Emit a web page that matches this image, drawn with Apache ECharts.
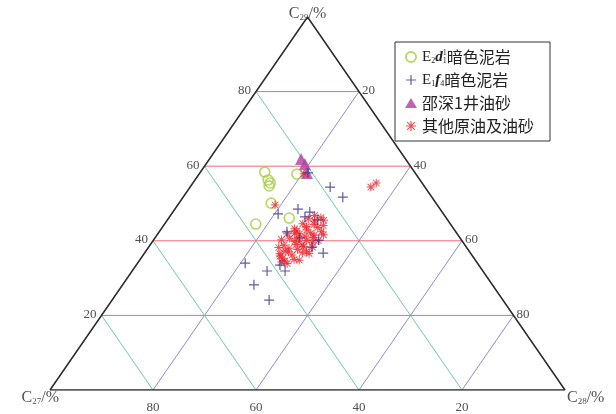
<!DOCTYPE html>
<html>
<head>
<meta charset="utf-8">
<script src="https://cdn.jsdelivr.net/npm/echarts@6/dist/echarts.min.js"></script>
<style>
  html, body { margin: 0; padding: 0; background: #fff; }
  #chart { width: 616px; height: 414px; }
</style>
</head>
<body>
<div id="chart"></div>
<script>
// Sterane composition of each sample, as [C27, C28, C29] in %
const mudstoneEd = [
  [29.1, 12.5, 58.4], [29.5, 14.2, 56.3], [29.5, 15.0, 55.5], [30.1, 15.2, 54.7],
  [23.1, 19.0, 57.9], [32.0, 17.9, 50.1], [30.5, 23.4, 46.1], [37.8, 17.7, 44.5]
];
const mudstoneEf = [
  [20.8, 21.0, 58.2], [18.4, 27.2, 54.4], [17.3, 31.0, 51.7], [32.1, 20.7, 47.2],
  [27.6, 23.9, 48.5], [25.7, 26.6, 47.7], [27.3, 26.3, 46.4], [25.2, 29.2, 45.6],
  [32.8, 24.8, 42.4], [27.7, 32.1, 40.2], [28.6, 34.7, 36.7], [38.4, 29.7, 31.9],
  [45.1, 20.9, 34.0], [41.9, 26.2, 31.9], [38.6, 27.9, 33.5], [46.3, 25.5, 28.2],
  [45.4, 30.5, 24.1], [30.0, 31.7, 38.3], [31.1, 28.1, 40.8]
];
const shaoShen1 = [
  [20.3, 17.8, 61.9], [20.2, 19.2, 60.6], [21.0, 20.8, 58.2]
];
const otherOils = [
  [21.7, 20.3, 58.0], [31.5, 18.9, 49.6], [10.5, 35.1, 54.4], [8.9, 35.6, 55.5],
  [25.2, 28.0, 46.8], [24.3, 29.5, 46.2], [26.9, 27.2, 45.9], [24.1, 30.4, 45.5],
  [26.0, 28.7, 45.3], [28.6, 26.8, 44.6], [26.5, 29.1, 44.4], [24.9, 31.0, 44.1],
  [28.3, 27.9, 43.8], [26.2, 30.2, 43.6], [30.9, 25.9, 43.2], [28.7, 28.4, 42.9],
  [30.8, 26.6, 42.6], [26.1, 31.5, 42.4], [28.3, 29.6, 42.1], [30.7, 27.5, 41.8],
  [26.1, 32.3, 41.6], [33.0, 25.1, 41.9], [29.9, 28.9, 41.2], [28.4, 30.7, 40.9],
  [33.1, 26.2, 40.7], [34.9, 24.8, 40.3], [30.1, 29.8, 40.1], [32.5, 27.6, 39.9],
  [27.9, 32.1, 40.0], [29.2, 31.2, 39.6], [32.7, 28.3, 39.0], [35.2, 26.0, 38.8],
  [31.5, 30.0, 38.5], [36.5, 25.3, 38.2], [34.6, 27.4, 38.0], [29.9, 31.8, 38.3],
  [33.1, 29.2, 37.7], [35.2, 27.8, 37.0], [32.6, 30.6, 36.8], [37.1, 26.4, 36.5],
  [34.9, 28.9, 36.2], [31.4, 32.0, 36.6], [37.4, 26.7, 35.9], [37.2, 27.5, 35.3],
  [35.1, 29.9, 35.0], [37.1, 28.3, 34.6], [37.9, 27.8, 34.3], [34.2, 31.0, 34.8],
  [37.0, 29.1, 33.9], [31.5, 28.0, 40.5], [28.0, 30.5, 41.5], [35.7, 27.0, 37.3],
  [31.6, 29.5, 38.9], [31.5, 26.5, 42.0], [31.6, 31.2, 37.2]
];
const gridTicks = [20, 40, 60, 80];

const seriesNames = ['E2d11暗色泥岩', 'E1f4暗色泥岩', '邵深1井油砂', '其他原油及油砂'];
const legendLabels = {
  'E2d11暗色泥岩': 'E{sub|2}{it|d}{supw|1}{sub|1}{cn|暗色泥岩}',
  'E1f4暗色泥岩': 'E{sub|1}{it|f}{sub|4}{cn|暗色泥岩}',
  '邵深1井油砂': '{cn|邵深1井油砂}',
  '其他原油及油砂': '{cn|其他原油及油砂}'
};

const SERIF = "'Liberation Serif', 'Noto Sans CJK SC', serif";
const CJK = "'Noto Sans CJK SC', 'Liberation Serif', sans-serif";

// ternary [C27, C28, C29] -> cartesian (C28 pulls right, C29 pulls up)
function toXY(p) {
  return [p[1] + p[2] / 2, p[2]];
}

const plusPath = 'path://M0,4.4h10v1.2h-10z M4.4,0h1.2v10h-1.2z';
const starPath = 'path://M0,4.4h10v1.2h-10z M4.4,0h1.2v10h-1.2z ' +
  'M0.8,1.6L1.6,0.8L9.2,8.4L8.4,9.2z M8.4,0.8L9.2,1.6L1.6,9.2L0.8,8.4z';

function segment(a, b, color, width) {
  return {
    type: 'line', data: [toXY(a), toXY(b)], symbol: 'none', silent: true,
    lineStyle: { color: color, width: width }, z: 1, animation: false
  };
}

const series = [];
gridTicks.forEach(function (t) {
  series.push(segment([100 - t, 0, t], [0, 100 - t, t], '#f0687a', 1));   // C29 = t
  series.push(segment([t, 100 - t, 0], [t, 0, 100 - t], '#6fc9a5', 1));   // C27 = t
  series.push(segment([100 - t, t, 0], [0, t, 100 - t], '#8e8bd0', 1));   // C28 = t
});
series.push({
  type: 'line', silent: true, symbol: 'none', z: 2, animation: false,
  data: [[100, 0, 0], [0, 100, 0], [0, 0, 100], [100, 0, 0]].map(toXY),
  lineStyle: { color: '#2a2a2a', width: 1.5 }
});

function tickLabels(points, pos, dist, offset) {
  return {
    type: 'scatter', silent: true, symbolSize: 0, z: 3, animation: false,
    data: points.map(function (d) { return { value: toXY(d.p).concat(d.t) }; }),
    label: {
      show: true, position: pos, distance: dist, offset: offset || [0, 0],
      formatter: function (p) { return String(p.value[2]); },
      fontFamily: SERIF, fontSize: 13, color: '#222'
    }
  };
}
series.push(tickLabels(gridTicks.map(function (t) { return { p: [100 - t, 0, t], t: t }; }), 'left', 5, [0, -1]));
series.push(tickLabels(gridTicks.map(function (t) { return { p: [0, t, 100 - t], t: t }; }), 'right', 3, [0, -1]));
series.push(tickLabels(gridTicks.map(function (t) { return { p: [t, 100 - t, 0], t: t }; }), 'bottom', 11));

const titleRich = {
  s: { fontFamily: SERIF, fontSize: 9, verticalAlign: 'bottom', lineHeight: 12, padding: [6, 0, 0, 0], color: '#222' }
};
function cornerTitle(p, text, pos, offset) {
  return {
    type: 'scatter', silent: true, symbolSize: 0, z: 3, animation: false,
    data: [{ value: toXY(p) }],
    label: {
      show: true, position: pos, offset: offset, distance: 0,
      formatter: text, fontFamily: SERIF, fontSize: 16, color: '#222', rich: titleRich
    }
  };
}
series.push(cornerTitle([100, 0, 0], 'C{s|27}/%', 'left', [9, 8]));
series.push(cornerTitle([0, 100, 0], 'C{s|28}/%', 'right', [2, 8]));
series.push(cornerTitle([0, 0, 100], 'C{s|29}/%', 'top', [0, 5]));

series.push({
  name: seriesNames[0], type: 'scatter', z: 5, symbol: 'circle', symbolSize: 10,
  data: mudstoneEd.map(toXY),
  itemStyle: { color: 'rgba(255,255,255,0)', borderColor: '#a6ce45', borderWidth: 1.7 }
});
series.push({
  name: seriesNames[2], type: 'scatter', z: 6, symbol: 'triangle', symbolSize: 12,
  data: shaoShen1.map(toXY),
  itemStyle: { color: '#b23e9f' }
});
series.push({
  name: seriesNames[3], type: 'scatter', z: 7, symbol: starPath, symbolSize: 8.5,
  data: otherOils.map(toXY),
  itemStyle: { color: '#ec2228' }
});
series.push({
  name: seriesNames[1], type: 'scatter', z: 8, symbol: plusPath, symbolSize: 10,
  data: mudstoneEf.map(toXY),
  itemStyle: { color: '#35358f' }
});

const chart = echarts.init(document.getElementById('chart'));
chart.setOption({
  animation: false,
  backgroundColor: '#fff',
  grid: { left: 50, right: 51, top: 17, bottom: 24 },
  xAxis: { type: 'value', min: 0, max: 100, show: false },
  yAxis: { type: 'value', min: 0, max: 100, show: false },
  legend: {
    data: seriesNames,
    orient: 'vertical', left: 395, top: 42,
    padding: [7, 16, 7, 10], itemGap: 7, itemWidth: 12, itemHeight: 10,
    itemTextGap: 8,
    borderColor: '#333', borderWidth: 1, borderRadius: 0,
    formatter: function (n) { return legendLabels[n]; },
    textStyle: {
      fontFamily: SERIF, fontSize: 15, color: '#222',
      rich: {
        sub: { fontFamily: SERIF, fontSize: 8, verticalAlign: 'bottom', padding: [7, 0, 0, 0], color: '#222' },
        supw: { fontFamily: SERIF, fontSize: 8, verticalAlign: 'top', padding: [0, 0, 7, 0], width: 0, color: '#222' },
        it: { fontFamily: SERIF, fontSize: 15, fontStyle: 'italic', fontWeight: 'bold', color: '#222' },
        cn: { fontFamily: CJK, fontSize: 16, color: '#222' }
      }
    }
  },
  series: series
});
</script>
</body>
</html>
